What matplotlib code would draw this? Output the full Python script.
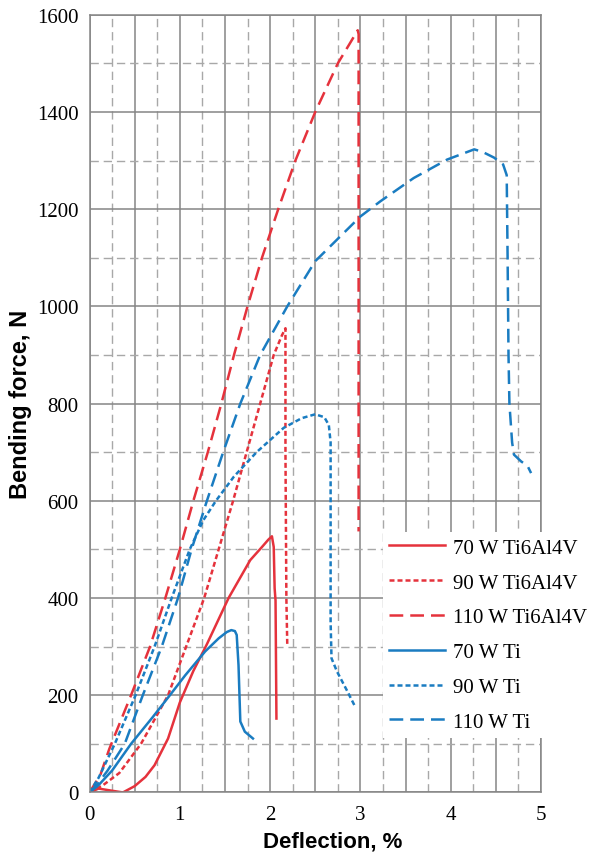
import numpy as np
import matplotlib
matplotlib.use('Agg')
from matplotlib import pyplot as plt
from matplotlib.ticker import MultipleLocator, FuncFormatter

# deflection (%) and bending force (N)
x_70_ti64 = [0, 0.1, 0.2, 0.37, 0.5, 0.62, 0.72, 0.87, 1.0, 1.15, 1.3, 1.54, 1.78, 1.91, 1.98, 2.02, 2.04, 2.05, 2.06, 2.07]
f_70_ti64 = [0, 8, 5, 0, 13, 32, 56, 111, 185, 250, 305, 400, 478, 505, 520, 527, 505, 420, 395, 152]

x_90_ti64 = [0, 0.15, 0.33, 0.57, 0.87, 1.07, 1.27, 1.43, 1.59, 1.74, 1.89, 2.04, 2.13, 2.17, 2.17, 2.18, 2.19]
f_90_ti64 = [0, 15, 40, 100, 200, 300, 400, 500, 600, 700, 800, 900, 940, 955, 700, 400, 303]

x_110_ti64 = [0, 0.12, 0.22, 0.46, 0.67, 0.84, 1.0, 1.15, 1.31, 1.46, 1.60, 1.75, 1.91, 2.09, 2.28, 2.5, 2.75, 2.88, 2.97, 2.98, 2.98]
f_110_ti64 = [0, 36, 90, 200, 300, 400, 500, 600, 700, 800, 900, 1000, 1100, 1200, 1300, 1400, 1500, 1540, 1568, 1560, 537]

x_70_ti = [0, 0.1, 0.25, 0.46, 0.7, 0.89, 1.06, 1.28, 1.43, 1.52, 1.57, 1.61, 1.63, 1.65, 1.67, 1.72, 1.81]
f_70_ti = [0, 15, 45, 100, 155, 200, 241, 290, 317, 330, 334, 332, 324, 262, 146, 125, 111]

x_90_ti = [0, 0.1, 0.28, 0.51, 0.72, 0.91, 1.11, 1.26, 1.40, 1.6, 1.85, 2.15, 2.35, 2.5, 2.6, 2.65, 2.67, 2.67, 2.68, 2.74, 2.85, 2.94]
f_90_ti = [0, 30, 100, 200, 300, 400, 500, 560, 600, 650, 700, 750, 770, 778, 772, 756, 720, 350, 276, 249, 210, 177]

x_110_ti = [0, 0.1, 0.2, 0.39, 0.59, 0.80, 0.98, 1.13, 1.30, 1.48, 1.67, 1.89, 2.19, 2.5, 3.0, 3.22, 3.59, 3.96, 4.26, 4.35, 4.48, 4.58,
            4.62, 4.63, 4.64, 4.65, 4.68, 4.70, 4.78, 4.85, 4.89]
f_110_ti = [0, 20, 45, 100, 200, 300, 400, 500, 600, 700, 800, 900, 1000, 1093, 1185, 1216, 1264, 1302, 1323, 1318, 1306, 1292,
            1270, 1100, 900, 800, 720, 695, 681, 672, 657]

labels = ['70 W Ti6Al4V', '90 W Ti6Al4V', '110 W Ti6Al4V', '70 W Ti', '90 W Ti', '110 W Ti']

red = '#e5323c'
blue = '#1a7cc1'
solid = '-'
dotted = (0, (2.0, 1.2))
dashed = (0, (5.5, 2.8))

fig = plt.figure(figsize=(5.94, 8.54), dpi=100)
ax = fig.add_axes([0.1507, 0.0709, 0.7601, 0.9107])

curves = [
    (x_70_ti64, f_70_ti64, red, solid),
    (x_90_ti64, f_90_ti64, red, dotted),
    (x_110_ti64, f_110_ti64, red, dashed),
    (x_70_ti, f_70_ti, blue, solid),
    (x_90_ti, f_90_ti, blue, dotted),
    (x_110_ti, f_110_ti, blue, dashed),
]
for (x, f, c, ls), lab in zip(curves, labels):
    ax.plot(x, f, color=c, linestyle=ls, lw=1.8, label=lab, solid_joinstyle='round', dash_joinstyle='round')

ax.set_xlim(0, 5)
ax.set_ylim(0, 1600)
ax.xaxis.set_major_locator(MultipleLocator(0.5))
ax.xaxis.set_minor_locator(MultipleLocator(0.25))
ax.yaxis.set_major_locator(MultipleLocator(200))
ax.yaxis.set_minor_locator(MultipleLocator(100))
ax.xaxis.set_major_formatter(FuncFormatter(lambda v, p: '%d' % v if abs(v - round(v)) < 1e-6 else ''))
ax.set_axisbelow(True)
ax.grid(which='major', color='#858585', lw=1.1, ls='-')
ax.grid(which='minor', color='#a8a8a8', lw=1.0, ls=(0, (6, 3.5)))
ax.tick_params(which='both', length=0)
ax.tick_params(axis='x', pad=9)
ax.tick_params(axis='y', pad=8)
for lab in ax.get_xticklabels() + ax.get_yticklabels():
    lab.set_fontfamily('Liberation Serif')
    lab.set_fontsize(15)
for sp in ax.spines.values():
    sp.set_color('#858585')
    sp.set_linewidth(1.1)

ax.set_xlabel('Deflection, %', fontsize=16, fontweight='bold', family='Liberation Sans')
ax.set_ylabel('Bending force, N', fontsize=17, fontweight='bold', family='Liberation Sans')
ax.xaxis.set_label_coords(0.539, -0.0485)
ax.yaxis.set_label_coords(-0.127, 0.5)

leg = ax.legend(loc='upper left', bbox_to_anchor=(0.65, 0.335), frameon=True, fancybox=False,
                facecolor='white', edgecolor='none', framealpha=1,
                prop={'family': 'Liberation Serif', 'size': 15},
                handlelength=2.7, handletextpad=0.35, labelspacing=0.73, borderpad=0.3, borderaxespad=0)

fig.savefig('out.png', dpi=100)
